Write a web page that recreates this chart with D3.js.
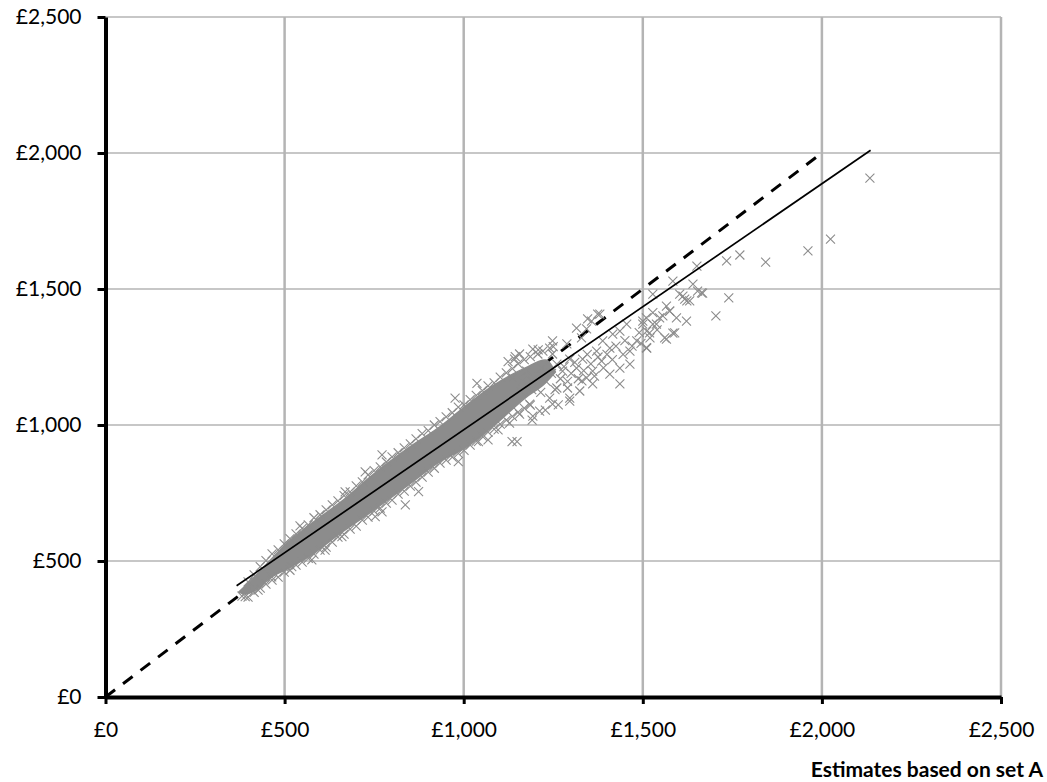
<!DOCTYPE html>
<html>
<head>
<meta charset="utf-8">
<script src="https://cdn.jsdelivr.net/npm/d3@7/dist/d3.min.js"></script>
<style>
  html, body { margin: 0; padding: 0; background: #ffffff; }
  svg { display: block; }
  .tick text { font-family: Lato, "Open Sans", sans-serif; font-size: 21px; fill: #000; }
</style>
</head>
<body>
<svg id="chart" width="1047" height="782"></svg>
<script>
// Axis ticks (pounds)
const xTicks = [0, 500, 1000, 1500, 2000, 2500];
const yTicks = [0, 500, 1000, 1500, 2000, 2500];

// Saturated core of the estimate cloud: lower and upper envelope at each set-A value
const coreX    = [372, 390, 474, 501, 566, 661, 753, 845, 940, 999, 1080, 1172, 1228, 1256];
const coreLow  = [386, 379, 449, 467, 515, 607, 691, 779, 871, 912, 993, 1100, 1155, 1195];
const coreHigh = [386, 408, 522, 559, 629, 721, 824, 915, 1000, 1063, 1143, 1210, 1239, 1195];

// Individual estimates around the core: set A (x) and set B (y)
const setA = [
  // upper edge
  398, 415, 432, 448, 465, 482, 499, 515, 532, 549, 566, 582, 599, 616, 633, 649, 666, 683, 700, 717,
  733, 750, 767, 784, 800, 817, 834, 851, 867, 884, 901, 918, 934, 951, 968, 985, 1001, 1018, 1035, 1052,
  1068, 1085, 1102, 1119, 1136, 1152, 1169, 1186,
  772, 725, 976, 1037, 1124, 1144, 1208, 1250, 543, 669,
  // lower edge
  381, 398, 415, 432, 448, 465, 482, 499, 515, 532, 549, 566, 582, 599, 616, 633, 649, 666, 683, 700,
  717, 733, 750, 767, 784, 800, 817, 834, 851, 867, 884, 901, 918, 934, 951, 968, 985, 1001, 1018, 1035,
  1052, 1068, 1085, 1102, 1119, 1136, 1152, 1169, 1186,
  837, 874, 772, 1041, 1068, 1135, 1149, 985, 1096, 1191, 1228, 1264, 660, 613, 576, 520, 464, 426, 390, 753,
  1212, 1248, 1296, 1290, 1330, 1193, 1128,
  // scattered tail
  1142, 1156, 1193, 1207, 1221, 1240, 1218, 1165, 1190, 1260, 1276, 1296, 1315, 1332, 1343, 1360, 1371,
  1388, 1408, 1416, 1436, 1455, 1464, 1483, 1500, 1511, 1528, 1561, 1584, 1575, 1556, 1380, 1343, 1357,
  1296, 1324, 1260, 1240, 1184, 1156, 1360, 1408, 1436, 1436, 1464, 1511, 1176, 1137, 1288, 1248, 1315,
  1329, 1248, 1385, 1374, 1346,
  1160, 1175, 1190, 1205, 1215, 1230, 1245, 1255, 1270, 1280, 1290, 1300, 1310, 1320, 1335, 1345, 1355,
  1365, 1375, 1390, 1400, 1415, 1425, 1445, 1450, 1470, 1490, 1495, 1520, 1540,
  // upper tail and outliers
  1510, 1566, 1589, 1622, 1640, 1664, 1612, 1623, 1651, 1704, 1740, 1734, 1771, 1843, 1961, 2024,
  2134, 1510, 1528, 1547, 1566, 1575, 1594, 1538, 1519, 1500, 1603, 1617, 1631, 1584, 1528, 1653, 1667
];
const setB = [
  // upper edge
  423, 449, 479, 501, 526, 541, 563, 582, 600, 620, 633, 659, 670, 688, 706, 721, 740, 754, 776, 791,
  817, 832, 846, 864, 883, 898, 916, 931, 949, 968, 979, 1000, 1012, 1030, 1045, 1066, 1074, 1093, 1109, 1126,
  1144, 1155, 1176, 1192, 1207, 1225, 1240, 1251,
  890, 828, 1099, 1153, 1233, 1251, 1276, 1288, 629, 754,
  // lower edge
  371, 367, 385, 400, 415, 430, 441, 459, 466, 485, 496, 510, 525, 540, 551, 569, 588, 599, 617, 628,
  650, 661, 683, 694, 713, 724, 746, 757, 775, 790, 808, 827, 841, 860, 871, 882, 896, 907, 926, 941,
  959, 974, 985, 1003, 1018, 1032, 1047, 1062, 1073,
  706, 755, 681, 939, 945, 939, 939, 865, 982, 1018, 1055, 1074, 590, 540, 504, 479, 442, 393, 369, 663,
  1051, 1077, 1088, 1136, 1162, 1033, 1007,
  // scattered tail
  1242, 1261, 1279, 1261, 1272, 1283, 1209, 1162, 1162, 1224, 1198, 1242, 1209, 1242, 1173, 1198, 1272,
  1309, 1283, 1334, 1345, 1371, 1272, 1309, 1382, 1345, 1371, 1320, 1338, 1419, 1401, 1408, 1353, 1382,
  1099, 1125, 1136, 1099, 1077, 1040, 1151, 1187, 1209, 1151, 1224, 1283, 1198, 1173, 1298, 1309, 1356,
  1320, 1261, 1235, 1408, 1390,
  1120, 1150, 1130, 1180, 1120, 1160, 1190, 1130, 1170, 1215, 1160, 1190, 1230, 1170, 1200, 1260, 1225,
  1180, 1250, 1210, 1260, 1240, 1290, 1260, 1310, 1290, 1340, 1300, 1320, 1350,
  // upper tail and outliers
  1284, 1316, 1339, 1382, 1518, 1486, 1474, 1456, 1584, 1401, 1467, 1603, 1625, 1599, 1640, 1683,
  1908, 1394, 1413, 1394, 1437, 1419, 1394, 1371, 1339, 1371, 1481, 1463, 1456, 1529, 1481, 1492, 1485
];

// Fitted line and the line of equality
const fitX = [366, 2136];
const fitY = [409, 2010];
const refX = [0, 2000];
const refY = [0, 2000];

const svg = d3.select("#chart");
const x = d3.scaleLinear().domain([0, 2500]).range([105.5, 1001]);
const y = d3.scaleLinear().domain([0, 2500]).range([697, 17]);

const grid = "#b4b4b4";
const markColor = "#8c8c8c";

// Gridlines
svg.append("g").selectAll("line").data(yTicks.slice(1)).join("line")
  .attr("x1", x(0)).attr("x2", x(2500))
  .attr("y1", d => y(d)).attr("y2", d => y(d))
  .attr("stroke", grid).attr("stroke-width", 1.5);
svg.append("g").selectAll("line").data(xTicks.slice(1)).join("line")
  .attr("x1", d => x(d)).attr("x2", d => x(d))
  .attr("y1", y(0)).attr("y2", y(2500))
  .attr("stroke", grid).attr("stroke-width", 2.5);

const line = d3.line().x(d => x(d[0])).y(d => y(d[1]));

// Line of equality (dashed), under the estimates
svg.append("path").datum(refX.map((v, i) => [v, refY[i]]))
  .attr("d", line).attr("fill", "none")
  .attr("stroke", "#000").attr("stroke-width", 3).attr("stroke-dasharray", "12,10");

// Saturated core
const coreData = coreX.map((v, i) => ({ a: v, lo: coreLow[i], hi: coreHigh[i] }));
svg.append("path").datum(coreData)
  .attr("d", d3.area().x(d => x(d.a)).y0(d => y(d.lo)).y1(d => y(d.hi)).curve(d3.curveMonotoneX))
  .attr("fill", markColor)
  .attr("stroke", markColor).attr("stroke-width", 1.5).attr("stroke-linejoin", "round");

// Cross markers
const pts = setA.map((v, i) => [v, setB[i]]);
const r = 4.5;
svg.append("g").selectAll("path").data(pts).join("path")
  .attr("d", d => {
    const cx = x(d[0]), cy = y(d[1]);
    return `M${cx - r},${cy - r}L${cx + r},${cy + r}M${cx - r},${cy + r}L${cx + r},${cy - r}`;
  })
  .attr("stroke", markColor).attr("stroke-width", 1.1).attr("fill", "none");

// Fitted line
svg.append("path").datum(fitX.map((v, i) => [v, fitY[i]]))
  .attr("d", line).attr("fill", "none")
  .attr("stroke", "#000").attr("stroke-width", 1.7);

// Axes
const fmt = d => "£" + d3.format(",")(d);
const xAxis = svg.append("g").attr("transform", `translate(0,${y(0)})`)
  .call(d3.axisBottom(x).tickValues(xTicks).tickFormat(fmt).tickSize(7).tickSizeOuter(0).tickPadding(18));
const yAxis = svg.append("g").attr("transform", `translate(${x(0)},0)`)
  .call(d3.axisLeft(y).tickValues(yTicks).tickFormat(fmt).tickSize(8).tickSizeOuter(0).tickPadding(16));
[xAxis, yAxis].forEach(g => {
  g.select(".domain").attr("stroke", "#000").attr("stroke-width", 4);
  g.selectAll(".tick line").attr("stroke", "#000").attr("stroke-width", 3);
});

// Axis title
svg.append("text")
  .attr("x", 1043).attr("y", 777)
  .attr("text-anchor", "end")
  .attr("font-family", "Lato, 'Open Sans', sans-serif")
  .attr("font-weight", "bold")
  .attr("font-size", 21)
  .text("Estimates based on set A");
</script>
</body>
</html>
